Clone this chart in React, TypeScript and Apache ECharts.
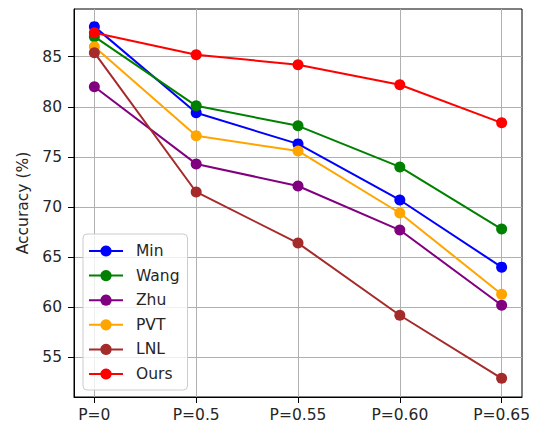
import React, { useEffect, useRef } from "react";
import * as echarts from "echarts";

const CATEGORIES = ["P=0", "P=0.5", "P=0.55", "P=0.60", "P=0.65"];
const MIN = [88.0, 79.4, 76.3, 70.7, 64.0];
const WANG = [87.0, 80.1, 78.1, 74.0, 67.8];
const ZHU = [82.0, 74.3, 72.1, 67.7, 60.2];
const PVT = [86.0, 77.1, 75.6, 69.4, 61.3];
const LNL = [85.4, 71.5, 66.4, 59.2, 52.9];
const OURS = [87.4, 85.2, 84.2, 82.2, 78.4];
const Y_TICKS = [55, 60, 65, 70, 75, 80, 85];
const Y_MIN = 51.04;
const Y_MAX = 89.76;

const SERIES = [
  { name: "Min", data: MIN, color: "#0000ff" },
  { name: "Wang", data: WANG, color: "#008000" },
  { name: "Zhu", data: ZHU, color: "#800080" },
  { name: "PVT", data: PVT, color: "#ffa500" },
  { name: "LNL", data: LNL, color: "#a52a2a" },
  { name: "Ours", data: OURS, color: "#ff0000" },
];

const FONT = "DejaVu Sans";
const FS = 15.5;

export default function App() {
  const ref = useRef<HTMLDivElement>(null);
  useEffect(() => {
    if (!ref.current) return;
    const chart = echarts.init(ref.current, null, { renderer: "svg" });
    const xIdx = CATEGORIES.map((_, i) => i);
    chart.setOption({
      animation: false,
      backgroundColor: "#ffffff",
      textStyle: { fontFamily: FONT },
      grid: {
        left: 74,
        top: 9,
        right: 14,
        bottom: 26,
        show: true,
        borderColor: "#000000",
        borderWidth: 1,
        backgroundColor: "transparent",
      },
      xAxis: {
        type: "value",
        min: -0.2,
        max: CATEGORIES.length - 1 + 0.2,
        axisLine: { show: true, onZero: false, lineStyle: { color: "#000", width: 1 } },
        axisTick: {
          show: true,
          customValues: xIdx,
          length: 6,
          lineStyle: { color: "#000" },
        },
        axisLabel: {
          customValues: xIdx,
          formatter: (v: number) => CATEGORIES[Math.round(v)] ?? "",
          color: "#262626",
          fontSize: FS,
          fontFamily: FONT,
          margin: 10,
        },
        splitLine: { show: true, lineStyle: { color: "#b0b0b0", width: 1 } },
      },
      yAxis: {
        type: "value",
        min: Y_MIN,
        max: Y_MAX,
        name: "Accuracy (%)",
        nameLocation: "middle",
        nameRotate: 90,
        nameGap: 40,
        nameTextStyle: { color: "#262626", fontSize: FS, fontFamily: FONT },
        axisLine: { show: true, onZero: false, lineStyle: { color: "#000", width: 1 } },
        axisTick: {
          show: true,
          customValues: Y_TICKS,
          length: 6,
          lineStyle: { color: "#000" },
        },
        axisLabel: {
          customValues: Y_TICKS,
          color: "#262626",
          fontSize: FS,
          fontFamily: FONT,
          margin: 12,
        },
        splitLine: { show: true, lineStyle: { color: "#b0b0b0", width: 1 } },
      },
      legend: {
        orient: "vertical",
        left: 83,
        top: 234,
        padding: [9, 8, 8, 5],
        itemWidth: 34,
        itemHeight: 14,
        itemGap: 8.6,
        backgroundColor: "rgba(255,255,255,0.8)",
        borderColor: "#cccccc",
        borderWidth: 1,
        borderRadius: 4,
        textStyle: {
          color: "#262626",
          fontSize: FS,
          fontFamily: FONT,
          lineHeight: 14,
          padding: [0, 0, 0, 8],
        },
        data: SERIES.map((s) => s.name),
      },
      series: SERIES.map((s) => ({
        name: s.name,
        type: "line",
        data: s.data.map((v, i) => [i, v]),
        color: s.color,
        symbol: "circle",
        symbolSize: 11,
        showSymbol: true,
        lineStyle: { width: 2, color: s.color },
        itemStyle: { color: s.color },
        emphasis: { disabled: true },
      })),
    });
    return () => chart.dispose();
  }, []);
  return (
    <div
      ref={ref}
      style={{ position: "fixed", left: 0, top: 0, width: 536, height: 423 }}
    />
  );
}
